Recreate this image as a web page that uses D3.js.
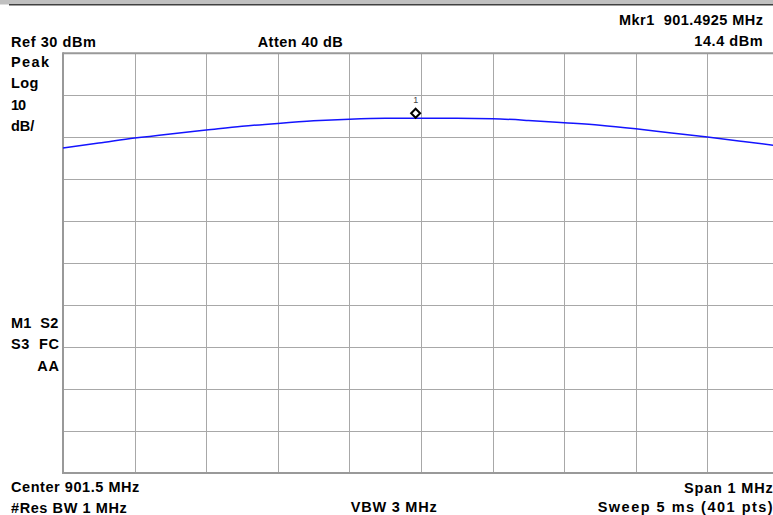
<!DOCTYPE html>
<html>
<head>
<meta charset="utf-8">
<script src="https://cdn.jsdelivr.net/npm/d3@7"></script>
<style>
  html, body { margin: 0; padding: 0; background: #fff; }
  svg { display: block; }
  text { font-family: "Liberation Sans", Arial, sans-serif; font-weight: bold; font-size: 14.5px; fill: #000; white-space: pre; }
</style>
</head>
<body>
<svg id="chart" width="773" height="515"></svg>
<script>
// ---- data ----
const traceFreqMHz = [901.00, 901.05, 901.10, 901.15, 901.20, 901.25, 901.30, 901.35, 901.40, 901.45,
                      901.50, 901.55, 901.60, 901.65, 901.70, 901.75, 901.80, 901.85, 901.90, 901.95, 902.00];
const traceLevelDbm = [7.45, 8.6, 9.8, 10.8, 11.7, 12.6, 13.3, 13.9, 14.3, 14.5,
                       14.5, 14.5, 14.4, 14.0, 13.45, 12.85, 12.0, 11.0, 10.05, 9.0, 7.9];
const gridFreqMHz = [901.0, 901.1, 901.2, 901.3, 901.4, 901.5, 901.6, 901.7, 901.8, 901.9, 902.0];
const gridLevelDbm = [30, 20, 10, 0, -10, -20, -30, -40, -50, -60, -70];
const markerFreqMHz = [901.4925];
const markerLevelDbm = [14.4];
const markerIds = ["1"];
const headerTexts = ["Ref 30 dBm", "Atten 40 dB", "Mkr1  901.4925 MHz", "14.4 dBm"];
const sideTexts = ["Peak", "Log", "10", "dB/", "M1  S2", "S3  FC", "AA"];
const footerTexts = ["Center 901.5 MHz", "#Res BW 1 MHz", "Span 1 MHz", "VBW 3 MHz", "Sweep 5 ms (401 pts)"];

// ---- layout ----
const svg = d3.select("#chart");
const x = d3.scaleLinear().domain([901.0, 902.0]).range([63, 779]);
const y = d3.scaleLinear().domain([-70, 30]).range([473, 53.3]);

// top title bar remnant
svg.append("rect").attr("x", 0).attr("y", 0).attr("width", 773).attr("height", 4.5).attr("fill", "#c0c0c0");
svg.append("rect").attr("x", 9).attr("y", 4).attr("width", 764).attr("height", 1.5).attr("fill", "#404040");

// grid via axes
const gridColor = "#a8a8a8";
const gx = svg.append("g").attr("transform", `translate(0,${y(-70)})`)
  .call(d3.axisBottom(x).tickValues(gridFreqMHz).tickSize(-(y(-70) - y(30))).tickFormat(""));
const gy = svg.append("g").attr("transform", `translate(${x(901.0)},0)`)
  .call(d3.axisLeft(y).tickValues(gridLevelDbm).tickSize(-(x(902.0) - x(901.0))).tickFormat(""));
[gx, gy].forEach(g => {
  g.select(".domain").remove();
  g.selectAll(".tick line").attr("stroke", gridColor).attr("stroke-width", 1);
});
gx.selectAll(".tick").attr("transform", d => `translate(${Math.round(x(d)) + 0.5},0)`);
gy.selectAll(".tick").attr("transform", d => `translate(0,${Math.round(y(d)) + 0.5})`);

// frame (left, top, bottom heavier)
const frame = svg.append("g").attr("stroke", "#999").attr("stroke-width", 2).attr("fill", "none");
frame.append("line").attr("x1", x(901.0)).attr("x2", x(901.0)).attr("y1", y(30) - 1).attr("y2", y(-70) + 1);
frame.append("line").attr("x1", x(901.0)).attr("x2", x(902.0)).attr("y1", y(30)).attr("y2", y(30));
frame.append("line").attr("x1", x(901.0) - 1).attr("x2", x(902.0)).attr("y1", y(-70)).attr("y2", y(-70));

// trace
const trace = traceFreqMHz.map((f, i) => ({ f, v: traceLevelDbm[i] }));
svg.append("path").datum(trace)
  .attr("fill", "none").attr("stroke", "#1414ff").attr("stroke-width", 1.5)
  .attr("d", d3.line().x(d => x(d.f)).y(d => y(d.v)).curve(d3.curveMonotoneX));

// marker
const markers = markerFreqMHz.map((f, i) => ({ f, v: markerLevelDbm[i], id: markerIds[i] }));
const mk = svg.append("g").selectAll("g").data(markers).join("g")
  .attr("transform", d => `translate(${x(d.f)},${y(d.v) - 5.5})`);
mk.append("path").attr("d", "M0,-4.5L4.5,0L0,4.5L-4.5,0Z").attr("fill", "#fff").attr("stroke", "#000").attr("stroke-width", 2);
mk.append("text").attr("y", -10.5).attr("text-anchor", "middle")
  .style("font-size", "9px").style("font-weight", "normal").style("fill", "#444").text(d => d.id);

// text annotations: [x, baseline, width]
function place(texts, pos) {
  texts.forEach((t, i) => {
    const [tx, ty, tw] = pos[i];
    svg.append("text").attr("x", tx).attr("y", ty)
      .attr("textLength", tw).attr("lengthAdjust", "spacing").text(t);
  });
}
place(headerTexts, [[11, 46.5, 85], [257.7, 46.5, 85], [619, 25, 144], [694.3, 45.7, 68.4]]);
place(sideTexts, [[11, 66.7, 38], [11, 88.3, 27.3], [11, 110, 15], [11, 130.5, 23.3],
                  [11, 328.3, 47.3], [11, 349.3, 48], [37.3, 371, 21.7]]);
place(footerTexts, [[11, 492.3, 128.3], [11, 513, 115.7], [684, 493.3, 88.7], [350.7, 512.3, 86], [597.7, 512.3, 175]]);
</script>
</body>
</html>
